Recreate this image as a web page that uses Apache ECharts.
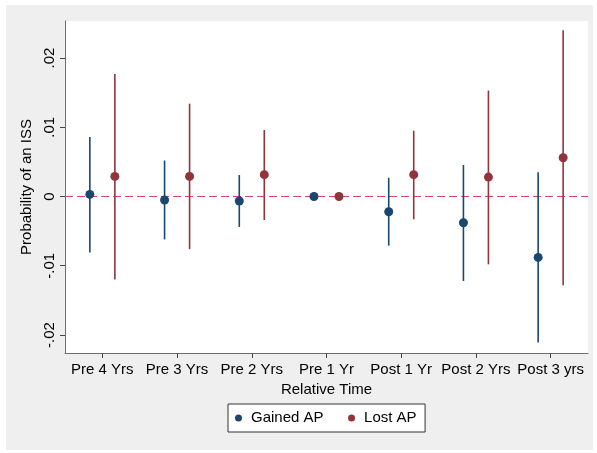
<!DOCTYPE html>
<html>
<head>
<meta charset="utf-8">
<script src="https://cdn.jsdelivr.net/npm/echarts@6/dist/echarts.min.js"></script>
<style>
html,body{margin:0;padding:0;background:#fff;}
#chart{width:597px;height:453px;}
</style>
</head>
<body>
<div id="chart"></div>
<script>
var categories = ['Pre 4 Yrs','Pre 3 Yrs','Pre 2 Yrs','Pre 1 Yr','Post 1 Yr','Post 2 Yrs','Post 3 yrs'];
var gainedEst = [0.0003, -0.0005, -0.00065, 0, -0.0022, -0.0038, -0.0088];
var gainedLo  = [-0.0081, -0.0062, -0.0044, 0, -0.0071, -0.0122, -0.0211];
var gainedHi  = [0.0086, 0.0052, 0.0031, 0, 0.0027, 0.00455, 0.0035];
var lostEst = [0.0029, 0.0029, 0.00315, 0, 0.00315, 0.0028, 0.0056];
var lostLo  = [-0.0120, -0.0076, -0.0034, 0, -0.0033, -0.0098, -0.0128];
var lostHi  = [0.0177, 0.0134, 0.0096, 0, 0.0095, 0.0153, 0.0240];
var yTicks = [-0.02, -0.01, 0, 0.01, 0.02];
var yTickLabels = ['-.02', '-.01', '0', '.01', '.02'];
var refLineValue = [0];

var BLUE = '#1a476f', RED = '#90353b';
var OFF = 12.5;
var FONT = "'Liberation Sans', Arial, sans-serif";

function ciData(lo, hi) {
  return categories.map(function (c, i) { return [i, lo[i], hi[i]]; });
}
function ptData(est) {
  return categories.map(function (c, i) { return [i, est[i]]; });
}
function ciSeries(lo, hi, color, off) {
  return {
    type: 'custom',
    data: ciData(lo, hi),
    z: 2,
    silent: true,
    renderItem: function (params, api) {
      var a = api.coord([api.value(0), api.value(1)]);
      var b = api.coord([api.value(0), api.value(2)]);
      return {
        type: 'line',
        shape: { x1: a[0] + off, y1: a[1], x2: b[0] + off, y2: b[1] },
        style: { stroke: color, lineWidth: 1.6 }
      };
    }
  };
}

var chart = echarts.init(document.getElementById('chart'));
chart.setOption({
  backgroundColor: '#ffffff',
  animation: false,
  textStyle: { fontFamily: FONT },
  graphic: [{
    type: 'rect', z: -100, silent: true,
    shape: { x: 6, y: 5, width: 587, height: 445 },
    style: { fill: '#efefef' }
  }],
  grid: { left: 65, right: 9, top: 21, bottom: 100, show: true, backgroundColor: '#ffffff', borderWidth: 0 },
  legend: {
    data: [{ name: 'Gained AP', icon: 'circle' }, { name: 'Lost AP', icon: 'circle' }],
    left: 228, top: 404,
    orient: 'horizontal',
    backgroundColor: '#ffffff',
    borderColor: '#333333', borderWidth: 1, borderRadius: 0,
    padding: [5, 8.5, 5, 7],
    itemWidth: 7, itemHeight: 7, itemGap: 24.5,
    textStyle: { fontFamily: FONT, fontSize: 15, color: '#000', lineHeight: 18, padding: [0, 0, 0, 4] }
  },
  xAxis: {
    type: 'category',
    data: categories,
    boundaryGap: true,
    name: 'Relative Time',
    nameLocation: 'middle',
    nameGap: 28,
    nameTextStyle: { fontFamily: FONT, fontSize: 15, color: '#000' },
    axisLine: { show: true, onZero: false, lineStyle: { color: '#6e6e6e', width: 1 } },
    axisTick: { show: true, alignWithLabel: true, length: 5, lineStyle: { color: '#444444', width: 1 } },
    axisLabel: { fontFamily: FONT, fontSize: 15, color: '#000', margin: 9, interval: 0 },
    splitLine: { show: false }
  },
  yAxis: {
    type: 'value',
    min: -0.0226, max: 0.02534,
    name: 'Probability of an ISS',
    nameLocation: 'middle',
    nameGap: 22,
    nameTextStyle: { fontFamily: FONT, fontSize: 15, color: '#000' },
    axisLine: { show: true, onZero: false, lineStyle: { color: '#6e6e6e', width: 1 } },
    axisTick: { show: true, length: 5, customValues: yTicks, lineStyle: { color: '#444444' } },
    axisLabel: {
      fontFamily: FONT, fontSize: 15, color: '#000', rotate: 90, margin: 8,
      customValues: yTicks,
      formatter: function (v) {
        for (var i = 0; i < yTicks.length; i++) {
          if (Math.abs(yTicks[i] - v) < 1e-9) return yTickLabels[i];
        }
        return '';
      }
    },
    splitLine: { show: false }
  },
  series: [
    {
      type: 'custom',
      data: refLineValue.map(function (v) { return [0, v]; }),
      z: 1,
      silent: true,
      renderItem: function (params, api) {
        var cs = params.coordSys;
        var p = api.coord([0, api.value(1)]);
        return {
          type: 'line',
          shape: { x1: cs.x, y1: p[1], x2: cs.x + cs.width, y2: p[1] },
          style: { stroke: '#d6456a', lineWidth: 1, lineDash: [8, 4] }
        };
      }
    },
    ciSeries(gainedLo, gainedHi, BLUE, -OFF),
    ciSeries(lostLo, lostHi, RED, OFF),
    {
      name: 'Gained AP', type: 'scatter', data: ptData(gainedEst),
      symbol: 'circle', symbolSize: 9, symbolOffset: [-OFF, 0], z: 3,
      itemStyle: { color: BLUE, opacity: 1 }
    },
    {
      name: 'Lost AP', type: 'scatter', data: ptData(lostEst),
      symbol: 'circle', symbolSize: 9, symbolOffset: [OFF, 0], z: 3,
      itemStyle: { color: RED, opacity: 1 }
    }
  ]
});
</script>
</body>
</html>
